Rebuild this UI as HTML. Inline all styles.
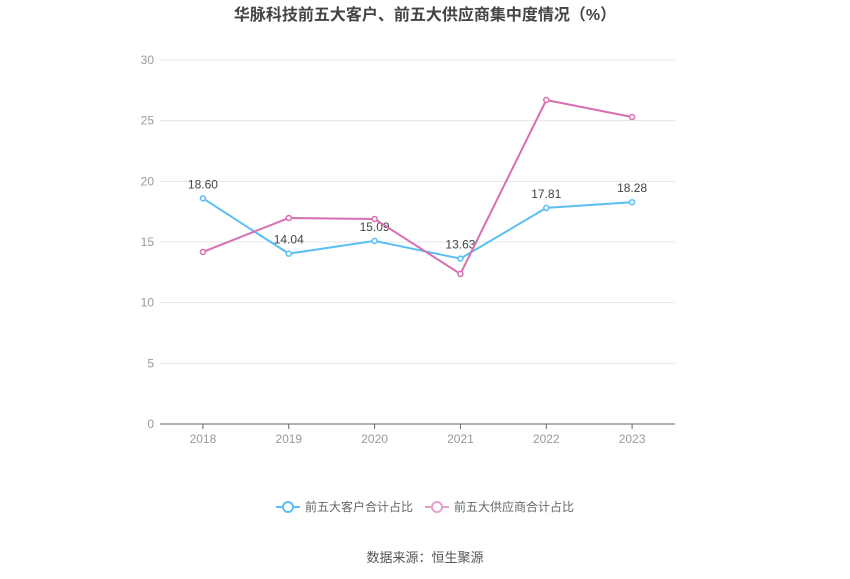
<!DOCTYPE html>
<html><head><meta charset="utf-8"><style>
body{margin:0;background:#fff;font-family:"Liberation Sans","Noto Sans CJK SC",sans-serif}
</style></head><body>
<svg id="chart" width="850" height="574" xmlns="http://www.w3.org/2000/svg">
<text x="425" y="20" text-anchor="middle" font-size="16" font-weight="bold" fill="#444" font-family="Liberation Sans,Noto Sans CJK SC,sans-serif">华脉科技前五大客户、前五大供应商集中度情况（%）</text>
<g id="grid"></g>
<g id="series"></g>
<g font-size="12" fill="#666" font-family="Liberation Sans,Noto Sans CJK SC,sans-serif">
<g>
<line x1="276" y1="507" x2="300" y2="507" stroke="#5bbff2" stroke-width="2"/><circle cx="288" cy="507" r="5" fill="#fff" stroke="#5bbff2" stroke-width="2"/>
<text x="305" y="511">前五大客户合计占比</text></g>
<g>
<line x1="425" y1="507" x2="449" y2="507" stroke="#e8a0cb" stroke-width="2"/><circle cx="437" cy="507" r="5" fill="#fff" stroke="#e8a0cb" stroke-width="2"/>
<text x="454" y="511">前五大供应商合计占比</text></g>
</g>
<text x="425" y="562" text-anchor="middle" font-size="13" fill="#555" font-family="Liberation Sans,Noto Sans CJK SC,sans-serif">数据来源：恒生聚源</text>
</svg>
<script>
const categories=["2018","2019","2020","2021","2022","2023"];
const customers=[18.60,14.04,15.09,13.63,17.81,18.28];
const suppliers=[14.18,16.98,16.9,12.37,26.7,25.3];
const yTicks=[0,5,10,15,20,25,30];
const NS="http://www.w3.org/2000/svg";
const L=160,R=675,T=60,B=424,yMax=30;
const y=v=>B-(v/yMax)*(B-T);
const bw=(R-L)/categories.length;
const x=i=>L+bw*(i+0.5);
function mk(tag,attrs,parent){const e=document.createElementNS(NS,tag);for(const k in attrs)e.setAttribute(k,attrs[k]);parent.appendChild(e);return e;}
const grid=document.getElementById('grid'),ser=document.getElementById('series');
yTicks.forEach(t=>{
 if(t>0){const g=mk('line',{x1:L,x2:R,y1:y(t),y2:y(t),stroke:'#e4e7ee','stroke-width':1},grid);
 
 }
 const tx=mk('text',{x:L-6,y:y(t)+4,'text-anchor':'end','font-size':12,fill:'#999'},grid);tx.textContent=t;
 
 
});
const ax=mk('line',{x1:L,x2:R,y1:B,y2:B,stroke:'#666','stroke-width':1},grid);


categories.forEach((c,i)=>{
 const tk=mk('line',{x1:x(i),x2:x(i),y1:B,y2:B+5,stroke:'#666'},grid);
 
 
 const tx=mk('text',{x:x(i),y:B+19,'text-anchor':'middle','font-size':12,fill:'#999'},grid);tx.textContent=c;
 
 
});
function draw(vals,color,name,labels){
 const p=mk('polyline',{points:vals.map((v,i)=>x(i)+','+y(v)).join(' '),fill:'none',stroke:color,'stroke-width':2},ser);
 
 
 vals.forEach((v,i)=>{
  const c=mk('circle',{cx:x(i),cy:y(v),r:2.5,fill:'#fff',stroke:color,'stroke-width':1.5},ser);
  
  
  if(labels){const t=mk('text',{x:x(i),y:y(v)-10,'text-anchor':'middle','font-size':12,fill:'#444'},ser);t.textContent=v.toFixed(2);
  
  }
 });
}
draw(customers,'#5bbff2','customers',true);
draw(suppliers,'#d86fb0','suppliers',false);
</script>
</body></html>
